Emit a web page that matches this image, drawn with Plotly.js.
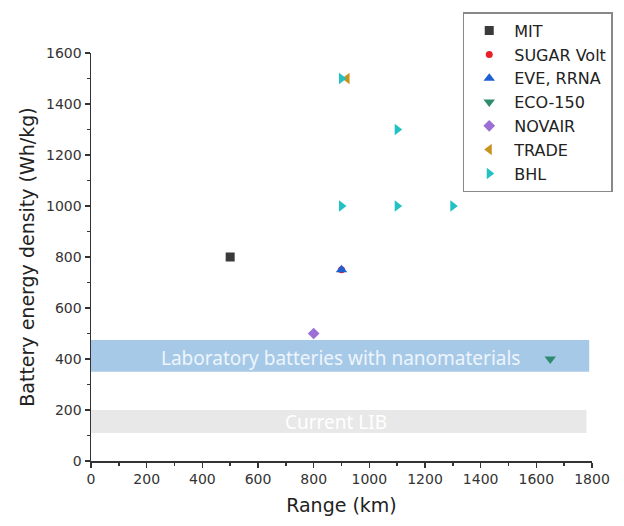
<!DOCTYPE html>
<html>
<head>
<meta charset="utf-8">
<script src="https://cdn.plot.ly/plotly-3.0.1.min.js"></script>
<style>html,body{margin:0;padding:0;background:#fff;}#chart{width:624px;height:526px;}</style>
</head>
<body>
<div id="chart"></div>
<script>
// Series data (Range km, Battery energy density Wh/kg)
const seriesNames = ["MIT", "SUGAR Volt", "EVE, RRNA", "ECO-150", "NOVAIR", "TRADE", "BHL"];
const mitX = [500];            const mitY = [800];
const sugarX = [900];          const sugarY = [750];
const eveX = [900];            const eveY = [750];
const ecoX = [1650];           const ecoY = [400];
const novairX = [800];         const novairY = [500];
const tradeX = [920];          const tradeY = [1500];
const bhlX = [900, 1100, 900, 1100, 1300];
const bhlY = [1500, 1300, 1000, 1000, 1000];

// Bands
const labBand = {x0: 0, x1: 1790, y0: 350, y1: 475, label: "Laboratory batteries with nanomaterials", lx: 898, ly: 404};
const libBand = {x0: 0, x1: 1780, y0: 110, y1: 200, label: "Current LIB", lx: 880, ly: 153};

const xTicks = [0,200,400,600,800,1000,1200,1400,1600,1800];
const yTicks = [0,200,400,600,800,1000,1200,1400,1600];

const xs = [mitX, sugarX, eveX, ecoX, novairX, tradeX, bhlX];
const ys = [mitY, sugarY, eveY, ecoY, novairY, tradeY, bhlY];
const symbols = ["square", "circle", "triangle-up", "triangle-down", "diamond", "triangle-left", "triangle-right"];
const colors = ["#3a3a3a", "#e8202a", "#1f5fd0", "#2e8b6e", "#9b6fd6", "#c8921e", "#22c1c3"];
const sizes = [9, 7, 10, 10, 9, 10, 10];

const traces = seriesNames.map((n, i) => ({
  type: "scatter", mode: "markers", name: n,
  x: xs[i], y: ys[i],
  marker: {symbol: symbols[i], color: colors[i], size: sizes[i], line: {width: 0}},
  cliponaxis: false
}));

const fam = "DejaVu Sans, Verdana, sans-serif";
const axisFont = {family: fam, size: 14, color: "#333"};

const layout = {
  width: 624, height: 526,
  margin: {l: 91, r: 32, t: 53, b: 65, autoexpand: false},
  paper_bgcolor: "#fff", plot_bgcolor: "#fff",
  showlegend: true,
  legend: {
    x: 0.742, y: 1.10, xanchor: "left", yanchor: "top",
    bordercolor: "#888", borderwidth: 1.5, bgcolor: "#fff",
    font: {family: fam, size: 16, color: "#222"},
    itemwidth: 40
  },
  xaxis: {
    range: [0, 1800], tickvals: xTicks, ticktext: xTicks.map(String),
    showgrid: false, zeroline: false, showline: true, linecolor: "#333", linewidth: 1.5,
    ticks: "outside", ticklen: 5, tickwidth: 1.5, tickcolor: "#333",
    minor: {dtick: 100, tick0: 0, ticks: "outside", ticklen: 3, tickwidth: 1.5, tickcolor: "#333", showgrid: false},
    tickfont: axisFont, automargin: false,
    title: {text: "Range (km)", font: {family: fam, size: 19, color: "#222"}, standoff: 12}
  },
  yaxis: {
    range: [0, 1600], tickvals: yTicks, ticktext: yTicks.map(String),
    showgrid: false, zeroline: false, showline: true, linecolor: "#333", linewidth: 1.5,
    ticks: "outside", ticklen: 5, tickwidth: 1.5, tickcolor: "#333",
    minor: {dtick: 100, tick0: 0, ticks: "outside", ticklen: 3, tickwidth: 1.5, tickcolor: "#333", showgrid: false},
    tickfont: axisFont, automargin: false,
    title: {text: "Battery energy density (Wh/kg)", font: {family: fam, size: 19, color: "#222"}, standoff: 6}
  },
  shapes: [
    {type: "rect", xref: "x", yref: "y", x0: labBand.x0, x1: labBand.x1, y0: labBand.y0, y1: labBand.y1,
     fillcolor: "#a7c9e8", line: {width: 0}, layer: "below"},
    {type: "rect", xref: "x", yref: "y", x0: libBand.x0, x1: libBand.x1, y0: libBand.y0, y1: libBand.y1,
     fillcolor: "#e8e8e8", line: {width: 0}, layer: "below"}
  ],
  annotations: [
    {xref: "x", yref: "y", x: labBand.lx, y: labBand.ly, text: labBand.label, showarrow: false,
     font: {family: "Noto Sans, Open Sans, sans-serif", size: 19, color: "#eef5fc"}},
    {xref: "x", yref: "y", x: libBand.lx, y: libBand.ly, text: libBand.label, showarrow: false,
     font: {family: "Noto Sans, Open Sans, sans-serif", size: 19, color: "#ffffff"}}
  ]
};

Plotly.newPlot("chart", traces, layout, {displayModeBar: false, staticPlot: true});
</script>
</body>
</html>
